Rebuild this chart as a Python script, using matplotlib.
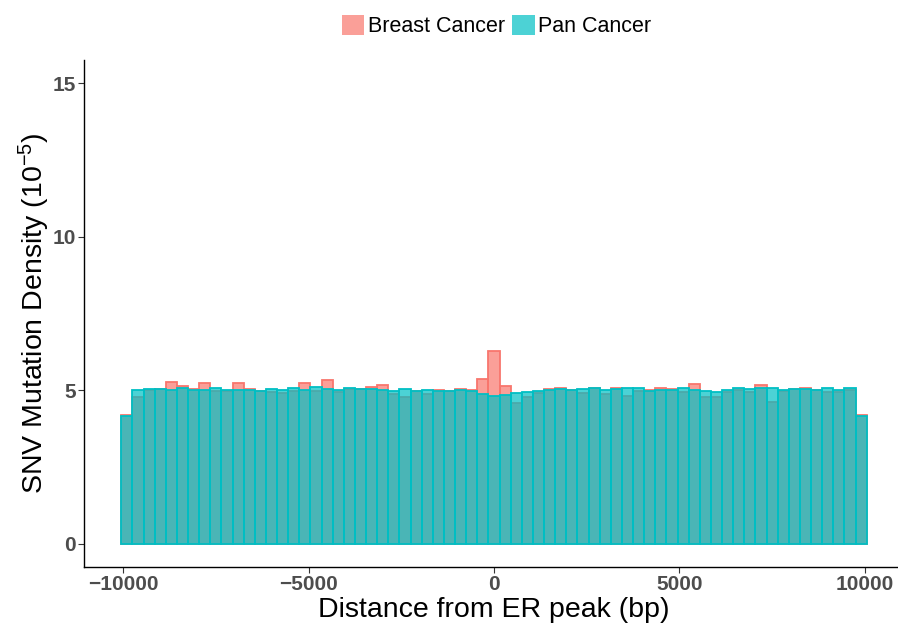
import numpy as np
import matplotlib
matplotlib.use("Agg")
import matplotlib.pyplot as plt
from matplotlib.patches import Patch

plt.rcParams['font.family'] = ['Liberation Sans', 'DejaVu Sans']
plt.rcParams['mathtext.fontset'] = 'custom'
plt.rcParams['mathtext.rm'] = 'Liberation Sans'
plt.rcParams['mathtext.it'] = 'Liberation Sans:italic'

# bins of 300 bp centred on the ER peak
bin_width = 300
bin_centers = np.arange(-9900, 9901, 300)

breast = [4.20, 4.79, 5.00, 5.03, 5.26, 5.14, 5.04, 5.24, 4.97, 4.97,
          5.24, 5.04, 4.98, 4.96, 4.90, 4.99, 5.25, 4.97, 5.33, 4.93,
          5.05, 5.05, 5.12, 5.17, 4.88, 4.77, 4.97, 4.88, 5.00, 4.98,
          5.05, 5.01, 5.36, 6.29, 5.14, 4.59, 4.77, 4.90, 5.04, 5.07,
          5.00, 4.90, 5.07, 4.88, 5.07, 4.81, 4.97, 5.02, 5.08, 5.04,
          4.93, 5.20, 4.78, 4.78, 4.94, 5.00, 4.96, 5.17, 4.63, 4.97,
          5.04, 5.08, 5.00, 4.96, 4.93, 5.02, 4.20]
pan = [4.17, 5.01, 5.04, 5.04, 5.02, 5.08, 5.02, 5.00, 5.08, 5.02,
       5.02, 5.01, 4.99, 5.04, 5.02, 5.06, 5.01, 5.10, 5.04, 5.00,
       5.06, 5.03, 5.05, 5.01, 4.98, 5.03, 4.98, 5.01, 4.97, 4.98,
       5.00, 4.98, 4.88, 4.83, 4.86, 4.91, 4.96, 4.98, 5.02, 5.03,
       5.02, 5.04, 5.06, 5.02, 5.05, 5.06, 5.06, 4.99, 5.00, 5.00,
       5.08, 5.00, 4.98, 4.96, 5.00, 5.06, 5.04, 5.06, 5.08, 5.02,
       5.04, 5.04, 5.00, 5.08, 5.02, 5.06, 4.15]

x_ticks = [-10000, -5000, 0, 5000, 10000]
y_ticks = [0, 5, 10, 15]

red = '#F8766D'
cyan = '#00BFC4'

fig = plt.figure(figsize=(8.98, 6.3), dpi=100)
ax = fig.add_axes([84 / 898, 63 / 630, 820 / 898, 507 / 630])

ax.bar(bin_centers, breast, width=bin_width, color=red, alpha=0.7, linewidth=0)
ax.bar(bin_centers, breast, width=bin_width, fill=False, edgecolor=red, linewidth=1.3)
ax.bar(bin_centers, pan, width=bin_width, color=cyan, alpha=0.7, linewidth=0)
ax.bar(bin_centers, pan, width=bin_width, fill=False, edgecolor=cyan, linewidth=1.3)

ax.set_xlim(-11055, 11055)
ax.set_ylim(-0.75, 15.75)
ax.set_xticks(x_ticks)
ax.set_yticks(y_ticks)
ax.set_xticklabels([f"{t}".replace('-', '\u2212') for t in x_ticks])

for side in ['top', 'right']:
    ax.spines[side].set_visible(False)
for side in ['left', 'bottom']:
    ax.spines[side].set_linewidth(1.0)
    ax.spines[side].set_color('black')

ax.tick_params(axis='both', direction='out', length=4, width=0.8, color='#333333',
               labelsize=15, labelcolor='#4D4D4D', pad=2)
for lbl in ax.get_xticklabels() + ax.get_yticklabels():
    lbl.set_fontweight('bold')

ax.set_xlabel('Distance from ER peak (bp)', fontsize=20.5, labelpad=2)
ax.set_ylabel('SNV Mutation Density (10$^{-5}$)', fontsize=20.5, labelpad=0)

handles = [Patch(facecolor=red, alpha=0.7, edgecolor='none', label='Breast Cancer'),
           Patch(facecolor=cyan, alpha=0.7, edgecolor='none', label='Pan Cancer')]
fig.legend(handles=handles, loc='upper center', bbox_to_anchor=(0.553, 1.0), ncol=2,
           frameon=False, fontsize=15.5, handlelength=1.05, handleheight=1.05,
           handletextpad=0.15, columnspacing=0.35, borderaxespad=0.3)

fig.savefig('out.png', dpi=100)
